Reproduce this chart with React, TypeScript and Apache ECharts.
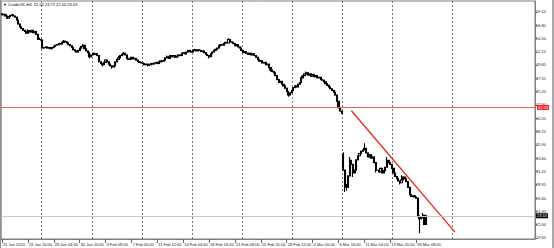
import { useEffect, useRef } from "react";
import * as echarts from "echarts";

const symbolName = "CrudeOIL,H4";
const firstOpen = 58.8;

// H4 closes, bar 0 = 21 Jan 2020 00:00
const closes = [
  58.6, 58.7, 58.4, 58.0, 58.3, 58.5, 58.6, 58.4, 58.2, 57.7,
  57.0, 56.5, 56.2, 55.9, 55.7, 55.4, 55.8, 55.6, 55.9, 55.5,
  55.7, 55.2, 54.5, 54.3, 54.2, 52.8, 52.9, 53.0, 52.8, 52.9,
  52.7, 52.9, 53.1, 53.3, 53.4, 53.6, 53.5, 53.8, 54.0, 53.9,
  53.7, 53.4, 53.2, 52.9, 52.5, 52.3, 52.1, 52.4, 52.8, 53.1,
  53.3, 52.7, 52.3, 52.0, 51.3, 51.6, 51.9, 51.7, 51.8, 51.5,
  50.4, 50.1, 49.9, 50.3, 50.7, 50.4, 50.0, 49.7, 49.5, 49.7,
  50.4, 50.8, 51.1, 51.5, 51.7, 51.9, 51.6, 51.0, 50.8, 50.9,
  51.2, 50.9, 51.0, 50.7, 50.4, 50.3, 50.2, 50.1, 49.9, 50.0,
  49.8, 49.9, 50.1, 50.0, 50.2, 50.3, 50.1, 50.4, 50.6, 50.5,
  50.7, 51.1, 51.3, 51.0, 51.5, 51.3, 51.5, 51.2, 51.4, 51.6,
  51.5, 51.9, 52.0, 51.8, 52.1, 52.4, 52.2, 52.1, 52.4, 52.5,
  52.3, 52.5, 52.4, 52.2, 52.3, 52.0, 51.7, 51.5, 51.3, 51.8,
  52.1, 52.4, 52.6, 52.8, 53.2, 53.4, 53.3, 53.6, 53.8, 53.7,
  54.3, 53.9, 53.8, 53.6, 53.2, 53.4, 53.0, 52.8, 52.4, 52.0,
  52.2, 51.9, 51.7, 51.9, 51.6, 51.8, 51.5, 51.2, 50.8, 50.5,
  50.6, 50.2, 50.3, 49.9, 50.0, 49.4, 49.0, 48.7, 48.5, 48.0,
  47.3, 46.8, 47.0, 46.5, 46.2, 45.8, 45.2, 44.6, 45.0, 45.4,
  45.9, 46.2, 46.0, 46.5, 46.8, 47.6, 48.0, 48.3, 48.5, 48.1,
  48.3, 47.9, 48.2, 47.8, 48.0, 47.6, 47.7, 47.3, 47.2, 46.9,
  46.6, 46.3, 46.0, 45.7, 45.4, 45.1, 44.6, 43.5, 42.4, 41.8,
  41.4, 31.5, 29.0, 28.5, 30.5, 33.2, 32.5, 31.0, 31.5, 33.3,
  34.0, 34.4, 34.8, 35.0, 35.3, 34.5, 33.8, 34.2, 33.6, 33.8,
  32.8, 31.5, 31.5, 31.2, 31.8, 31.0, 31.4, 32.0, 33.2, 32.8,
  32.5, 31.8, 31.0, 30.4, 30.0, 29.6, 29.3, 29.8, 30.3, 30.0,
  29.5, 28.5, 27.2, 26.9, 27.0, 26.8, 26.6, 23.5, 23.0, 23.2,
  23.6, 22.0, 23.53,
];

// bars whose open differs from the previous close (weekend gap)
const gapOpens: [number, number][] = [[211, 34.3]];
// notable wick extremes [bar, price]
const wickHighs: [number, number][] = [
  [3, 58.7], [16, 56.1], [38, 54.2], [50, 53.5], [72, 51.4], [75, 52.1], [102, 51.5], [119, 52.7],
  [140, 54.5], [185, 48.0], [188, 48.7], [211, 34.6], [215, 33.8], [224, 36.2], [238, 33.8],
  [247, 30.6], [260, 24.0], [262, 23.71],
];
const wickLows: [number, number][] = [
  [22, 54.2], [54, 51.0], [62, 49.6], [68, 49.2], [90, 49.6], [128, 51.0], [166, 48.7],
  [177, 44.3], [212, 27.7], [213, 27.9], [217, 30.3], [231, 31.1], [246, 29.0], [258, 20.5], [262, 22.0],
];

const timeLabels = [
  "21 Jan 2020", "23 Jan 16:00", "28 Jan 04:00", "30 Jan 20:00", "4 Feb 08:00", "7 Feb 00:00",
  "11 Feb 12:00", "14 Feb 04:00", "18 Feb 16:00", "21 Feb 08:00", "25 Feb 20:00", "28 Feb 12:00",
  "4 Mar 00:00", "6 Mar 16:00", "11 Mar 04:00", "13 Mar 20:00", "18 Mar 08:00",
];
const timeLabelBars = [0, 16, 32, 48, 64, 80, 96, 112, 128, 144, 160, 176, 192, 208, 224, 240, 256];
const weekStartBars = [25, 56, 87, 118, 149, 180, 211, 242, 279];
const totalSlots = 330;

const priceTicks = [
  19.65, 22.0, 24.3, 26.6, 28.95, 31.25, 33.6, 35.9, 38.25, 40.55,
  42.9, 45.2, 47.55, 49.85, 52.15, 54.5, 56.8, 59.1,
];
const priceMin = 19.475;
const priceMax = 61.02;

const levelLine = 42.53;
const trendPoints: [number, number][] = [[216, 41.87], [280, 20.67]];

export default function App() {
  const ref = useRef<HTMLDivElement>(null);
  useEffect(() => {
    if (!ref.current) return;
    const chart = echarts.init(ref.current, null, { renderer: "svg" });

    const hiMap = new Map(wickHighs);
    const loMap = new Map(wickLows);
    const gapMap = new Map(gapOpens);
    const candles = closes.map((c, i) => {
      const o = i === 0 ? firstOpen : gapMap.has(i) ? (gapMap.get(i) as number) : closes[i - 1];
      const lo = loMap.has(i) ? (loMap.get(i) as number) : Math.min(o, c);
      const hi = hiMap.has(i) ? (hiMap.get(i) as number) : Math.max(o, c);
      return [o, c, lo, hi];
    });
    const last = candles[candles.length - 1];
    const lastClose = closes[closes.length - 1];

    const labelAt = new Map<number, string>();
    timeLabelBars.forEach((b, k) => labelAt.set(b, timeLabels[k]));
    const categories = Array.from({ length: totalSlots }, (_, i) => labelAt.get(i) ?? `b${i}`);
    const labelSet = new Set(timeLabelBars);
    const weekSet = new Set(weekStartBars);
    const font = "Liberation Sans";

    const boxLabel = (text: string, bg: string) => ({
      show: true,
      position: "end",
      formatter: text,
      backgroundColor: bg,
      color: "#ffffff",
      fontSize: 4,
      padding: [1, 1, 0, 1],
      distance: 1,
      fontFamily: font,
    });

    chart.setOption({
      animation: false,
      backgroundColor: "#ffffff",
      textStyle: { fontFamily: font },
      title: {
        text: `▼ ${symbolName}  ${last[0].toFixed(2)} ${last[3].toFixed(2)} ${last[2].toFixed(2)} ${last[1].toFixed(2)}`,
        left: 3,
        top: 2,
        padding: 0,
        textStyle: { fontSize: 4, fontWeight: "normal", color: "#000", fontFamily: font },
      },
      grid: { left: 1, right: 19, top: 1, bottom: 9, show: true, borderColor: "#808080", borderWidth: 1 },
      xAxis: {
        type: "category",
        data: categories,
        boundaryGap: true,
        axisLine: { show: true, onZero: false, lineStyle: { color: "#808080", width: 1 } },
        axisTick: {
          show: true,
          alignWithLabel: true,
          interval: (i: number) => labelSet.has(i),
          length: 4,
          lineStyle: { color: "#666" },
        },
        axisLabel: {
          interval: (i: number) => labelSet.has(i),
          align: "left",
          fontSize: 4,
          color: "#222",
          margin: 3,
          padding: [0, 0, 0, 1],
          fontFamily: font,
        },
        splitLine: {
          show: true,
          interval: (i: number) => weekSet.has(i),
          lineStyle: { color: "#7a7a7a", width: 1, type: [2, 2] },
        },
      },
      yAxis: {
        type: "value",
        position: "right",
        min: priceMin,
        max: priceMax,
        axisLine: { show: true, lineStyle: { color: "#808080", width: 1 } },
        axisTick: { show: true, length: 2, customValues: priceTicks, lineStyle: { color: "#666" } },
        axisLabel: {
          customValues: priceTicks,
          formatter: (v: number) => v.toFixed(2),
          fontSize: 4,
          color: "#222",
          margin: 1,
          fontFamily: font,
        },
        splitLine: { show: false },
      },
      series: [
        {
          type: "candlestick",
          data: candles,
          barWidth: 1.6,
          z: 3,
          itemStyle: {
            color: "#ffffff",
            color0: "#000000",
            borderColor: "#000000",
            borderColor0: "#000000",
            borderWidth: 1.1,
          },
          markLine: {
            silent: true,
            symbol: ["none", "none"],
            animation: false,
            lineStyle: { color: "#c8c8c8", width: 1, type: "solid" },
            data: [{ yAxis: lastClose, label: boxLabel(lastClose.toFixed(2), "#000000") }],
          },
        },
        {
          type: "line",
          data: trendPoints,
          symbol: "none",
          silent: true,
          z: 4,
          color: "#e0281e",
          lineStyle: { color: "#e0281e", width: 1.3 },
        },
      ],
    });

    // horizontal level line + price box, positioned through the chart's own scale
    const yLevel = Math.round(chart.convertToPixel({ yAxisIndex: 0 }, levelLine) as number);
    const grid = (chart as any).getModel().getComponent("grid", 0).coordinateSystem.getRect();
    chart.setOption({
      graphic: [
        { type: "rect", left: 0, top: 0, shape: { width: 1, height: 248 }, style: { fill: "#909090" } },
        { type: "rect", right: 0, top: 0, shape: { width: 2, height: 248 }, style: { fill: "#a8a8a8" } },
        {
          type: "rect",
          silent: true,
          z: 5,
          shape: { x: grid.x, y: yLevel, width: grid.width, height: 1 },
          style: { fill: "#ee5a55" },
        },
        {
          type: "text",
          silent: true,
          z: 10,
          x: grid.x + grid.width + 2,
          y: yLevel + 0.5,
          style: {
            text: levelLine.toFixed(2),
            fill: "#ffffff",
            backgroundColor: "#ff1c1c",
            fontSize: 4,
            fontFamily: font,
            padding: [1, 1, 0, 1],
            verticalAlign: "middle",
            align: "left",
          },
        },
      ],
    });

    return () => chart.dispose();
  }, []);

  return <div ref={ref} style={{ position: "fixed", left: 0, top: 0, width: 554, height: 248 }} />;
}
